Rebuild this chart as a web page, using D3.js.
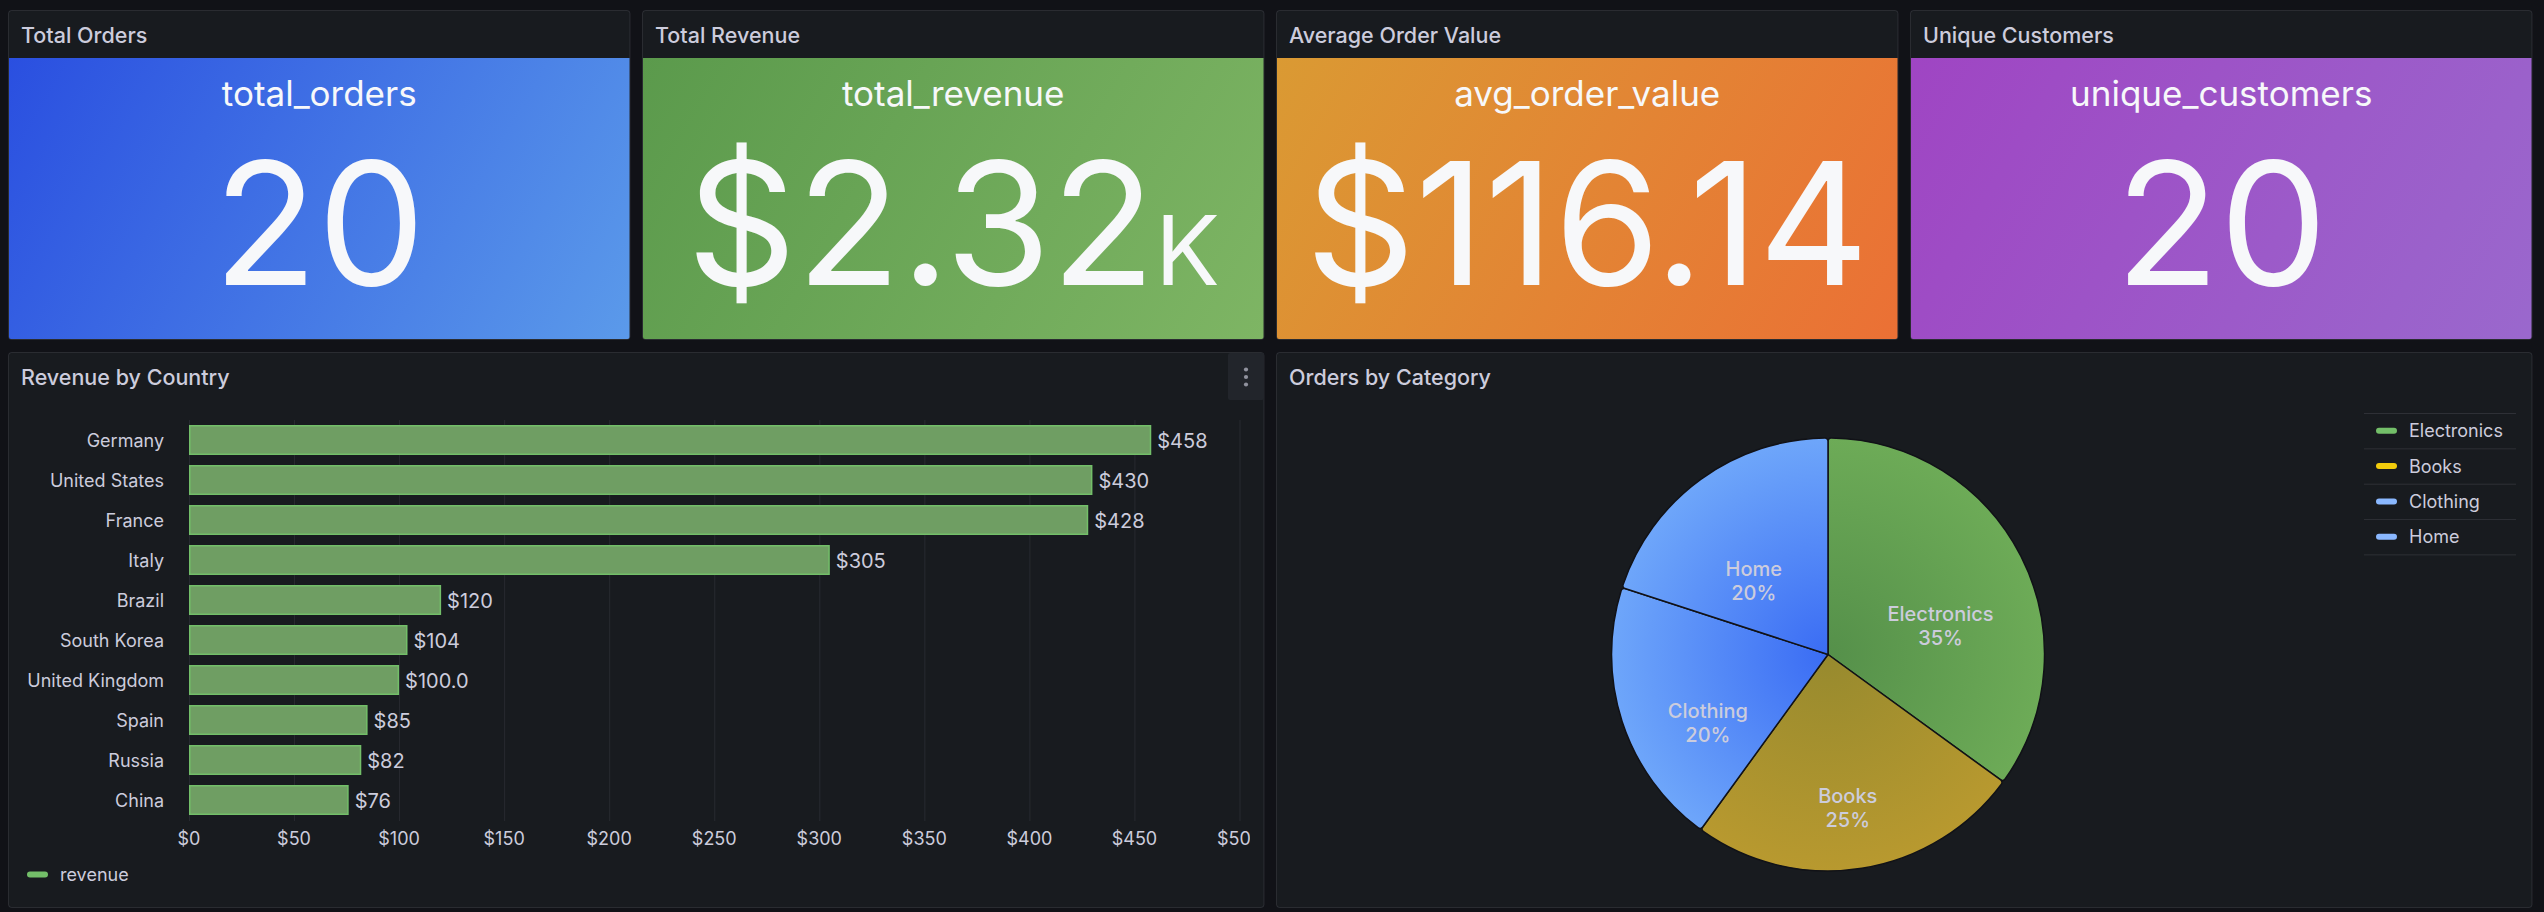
<!DOCTYPE html>
<html>
<head>
<meta charset="utf-8">
<script src="https://cdn.jsdelivr.net/npm/d3@7"></script>
<style>
html,body{margin:0;padding:0;background:#111217;overflow:hidden;}
svg{display:block;font-family:Inter,"Noto Sans",sans-serif;}
</style>
</head>
<body>
<svg id="c" width="2544" height="912"></svg>
<script>
// ---------------- DATA ----------------
const statTitles = ["Total Orders", "Total Revenue", "Average Order Value", "Unique Customers"];
const statFields = ["total_orders", "total_revenue", "avg_order_value", "unique_customers"];
const statValues = [20, 2322.8, 116.14, 20];
const statUnits  = ["none", "currencyK", "currency", "none"];

const countries = ["Germany", "United States", "France", "Italy", "Brazil", "South Korea", "United Kingdom", "Spain", "Russia", "China"];
const revenue   = [458, 430, 428, 305, 120, 104, 100, 85, 82, 76];
const revenueLabels = ["$458", "$430", "$428", "$305", "$120", "$104", "$100.0", "$85", "$82", "$76"];
const revenueTicks = [0, 50, 100, 150, 200, 250, 300, 350, 400, 450, 500];
const revenueTickLabels = ["$0", "$50", "$100", "$150", "$200", "$250", "$300", "$350", "$400", "$450", "$500"];

const categories = ["Electronics", "Books", "Clothing", "Home"];
const categoryOrders = [7, 5, 4, 4];

// ---------------- STYLES ----------------
const C = {
  bg: "#111217", panel: "#181b1f", border: "rgba(204,204,220,0.12)",
  text: "rgb(204,204,220)", statText: "#f7f8fa", grid: "rgba(204,204,220,0.09)"
};
const statFrom = ["#2a4fe0", "#5b9a4c", "#da9a33", "#9f45c3"];
const statTo   = ["#5b9aea", "#7eb564", "#eb7035", "#9a68cd"];
const catColors = ["#73BF69", "#F2CC0C", "#8AB8FF", "#8AB8FF"];
const catGradFrom = ["#55904a", "#978a2e", "#3a6cf4", "#3a6cf4"];
const catGradTo   = ["#6dab57", "#b8992f", "#6ea6fa", "#6ea6fa"];

const svg = d3.select("#c");
const defs = svg.append("defs");

svg.append("rect").attr("width", 2544).attr("height", 912).attr("fill", C.bg);

function panel(x, y, w, h, title) {
  const g = svg.append("g");
  g.append("rect").attr("x", x + 0.5).attr("y", y + 0.5).attr("width", w - 1).attr("height", h - 1)
    .attr("rx", 3).attr("fill", C.panel).attr("stroke", C.border);
  g.append("text").attr("x", x + 13).attr("y", y + 33).attr("font-size", 21.5).attr("font-weight", 500)
    .attr("fill", C.text).text(title);
  return g;
}

// ---------------- STAT PANELS ----------------
const colStep = 634, colW = 622.5, left0 = 8;
const row1Y = 10, row1H = 330;

function fmtStat(v, unit) {
  if (unit === "currencyK") return ["$" + (v / 1000).toFixed(2), "K"];
  if (unit === "currency") return ["$" + v.toFixed(2), ""];
  return [String(v), ""];
}

statTitles.forEach((t, i) => {
  const px = left0 + i * colStep;
  const g = panel(px, row1Y, colW, row1H, t);
  const bx = px + 1, by = row1Y + 48, bw = colW - 2, bh = row1H - 49;
  // CSS-like 120deg gradient
  const ang = 120 * Math.PI / 180;
  const dx = Math.sin(ang), dy = -Math.cos(ang);
  const L = Math.abs(bw * dx) + Math.abs(bh * dy);
  const cx = bx + bw / 2, cy = by + bh / 2;
  const grad = defs.append("linearGradient").attr("id", "sg" + i).attr("gradientUnits", "userSpaceOnUse")
    .attr("x1", cx - dx * L / 2).attr("y1", cy - dy * L / 2)
    .attr("x2", cx + dx * L / 2).attr("y2", cy + dy * L / 2);
  grad.append("stop").attr("offset", 0).attr("stop-color", statFrom[i]);
  grad.append("stop").attr("offset", 1).attr("stop-color", statTo[i]);
  g.append("path")
    .attr("d", `M${bx},${by}H${bx + bw}V${by + bh - 2}Q${bx + bw},${by + bh} ${bx + bw - 2},${by + bh}H${bx + 2}Q${bx},${by + bh} ${bx},${by + bh - 2}Z`)
    .attr("fill", `url(#sg${i})`);
  g.append("text").attr("x", cx).attr("y", row1Y + 96).attr("text-anchor", "middle")
    .attr("font-size", 35).attr("fill", C.statText).text(statFields[i]);
  const [main, suf] = fmtStat(statValues[i], statUnits[i]);
  const vt = g.append("text").attr("x", cx).attr("y", row1Y + 275).attr("text-anchor", "middle")
    .attr("font-size", 171).attr("fill", C.statText);
  vt.append("tspan").text(main);
  if (suf) vt.append("tspan").attr("font-size", 96).text(suf);
});

// ---------------- BAR CHART ----------------
const row2Y = 352, row2H = 556;
const bp = panel(left0, row2Y, colW * 2 + 11.5, row2H, "Revenue by Country");

// menu button
bp.append("rect").attr("x", 1228).attr("y", 353).attr("width", 36).attr("height", 47).attr("rx", 2)
  .attr("fill", "#22252b");
[-7.5, 0, 7.5].forEach(o => bp.append("circle").attr("cx", 1246).attr("cy", 377 + o).attr("r", 2.1)
  .attr("fill", "rgba(204,204,220,0.65)"));

const x = d3.scaleLinear().domain([0, 500]).range([189, 1239.5]);
const y = d3.scaleBand().domain(countries).range([420, 820]).paddingInner(0.25).paddingOuter(0.125);

bp.append("g").selectAll("line").data(revenueTicks).join("line")
  .attr("x1", d => x(d) + 0.5).attr("x2", d => x(d) + 0.5).attr("y1", 420).attr("y2", 821)
  .attr("stroke", C.grid).attr("stroke-width", 1);

defs.append("clipPath").attr("id", "axclip").append("rect").attr("x", 0).attr("y", 0).attr("width", 1250).attr("height", 912);
bp.append("g").attr("clip-path", "url(#axclip)").selectAll("text").data(revenueTicks).join("text")
  .attr("x", d => x(d)).attr("y", 838).attr("text-anchor", "middle").attr("dominant-baseline", "central")
  .attr("font-size", 18).attr("fill", C.text).text((d, i) => revenueTickLabels[i]);

bp.append("g").selectAll("rect").data(revenue).join("rect")
  .attr("x", x(0) + 0.75).attr("y", (d, i) => y(countries[i]) + 0.75)
  .attr("width", d => x(d) - x(0) - 1.5).attr("height", y.bandwidth() - 1.5)
  .attr("fill", "#6f9e63").attr("stroke", "#73BF69").attr("stroke-width", 1.5);

bp.append("g").selectAll("text").data(countries).join("text")
  .attr("x", 164).attr("y", d => y(d) + y.bandwidth() / 2).attr("text-anchor", "end")
  .attr("dominant-baseline", "central").attr("font-size", 18).attr("fill", C.text).text(d => d);

bp.append("g").selectAll("text").data(revenue).join("text")
  .attr("x", d => x(d) + 6).attr("y", (d, i) => y(countries[i]) + y.bandwidth() / 2 + 1)
  .attr("dominant-baseline", "central").attr("font-size", 20).attr("fill", C.text)
  .text((d, i) => revenueLabels[i]);

// legend
bp.append("rect").attr("x", 27).attr("y", 871.5).attr("width", 21).attr("height", 6).attr("rx", 3).attr("fill", "#73BF69");
bp.append("text").attr("x", 60).attr("y", 874.5).attr("dominant-baseline", "central").attr("font-size", 18)
  .attr("fill", C.text).text("revenue");

// ---------------- PIE CHART ----------------
const pp = panel(left0 + 2 * colStep, row2Y, colW * 2 + 11.5, row2H, "Orders by Category");
const R = 216.5, pcx = 1828, pcy = 654.5;
const pg = pp.append("g").attr("transform", `translate(${pcx},${pcy})`);
const pie = d3.pie().sort(null).value(d => d)(categoryOrders);
const arc = d3.arc().innerRadius(0).outerRadius(R).cornerRadius(3);
const labelArc = d3.arc().innerRadius(R / 6).outerRadius(R);
const total = d3.sum(categoryOrders);

categories.forEach((c, i) => {
  const rg = defs.append("radialGradient").attr("id", "pg" + i).attr("gradientUnits", "userSpaceOnUse")
    .attr("cx", 0).attr("cy", 0).attr("r", R);
  rg.append("stop").attr("offset", 0).attr("stop-color", catGradFrom[i]);
  rg.append("stop").attr("offset", 1).attr("stop-color", catGradTo[i]);
});

pg.selectAll("path").data(pie).join("path")
  .attr("d", arc).attr("fill", (d, i) => `url(#pg${i})`)
  .attr("stroke", "#111217").attr("stroke-width", 1.5);

pie.forEach((d, i) => {
  const [lx, ly] = labelArc.centroid(d);
  const t = pg.append("text").attr("x", lx).attr("y", ly).attr("text-anchor", "middle")
    .attr("font-size", 20).attr("font-weight", 500).attr("fill", C.text);
  t.append("tspan").attr("x", lx).attr("dy", "1.2em").text(categories[i]);
  t.append("tspan").attr("x", lx).attr("dy", "1.2em").text(Math.round(d.value / total * 100) + "%");
});

// pie legend
const lgX0 = 2364, lgX1 = 2516, lgY0 = 413, lgRow = 35.35;
categories.forEach((c, i) => {
  const cy = lgY0 + lgRow * (i + 0.5);
  pp.append("rect").attr("x", 2376).attr("y", cy - 3).attr("width", 21).attr("height", 6).attr("rx", 3).attr("fill", catColors[i]);
  pp.append("text").attr("x", 2409).attr("y", cy).attr("dominant-baseline", "central").attr("font-size", 18)
    .attr("fill", C.text).text(c);
});
d3.range(categories.length + 1).forEach(i => {
  pp.append("line").attr("x1", lgX0).attr("x2", lgX1).attr("y1", lgY0 + lgRow * i + 0.5).attr("y2", lgY0 + lgRow * i + 0.5)
    .attr("stroke", C.border).attr("stroke-width", 1);
});
</script>
</body>
</html>
